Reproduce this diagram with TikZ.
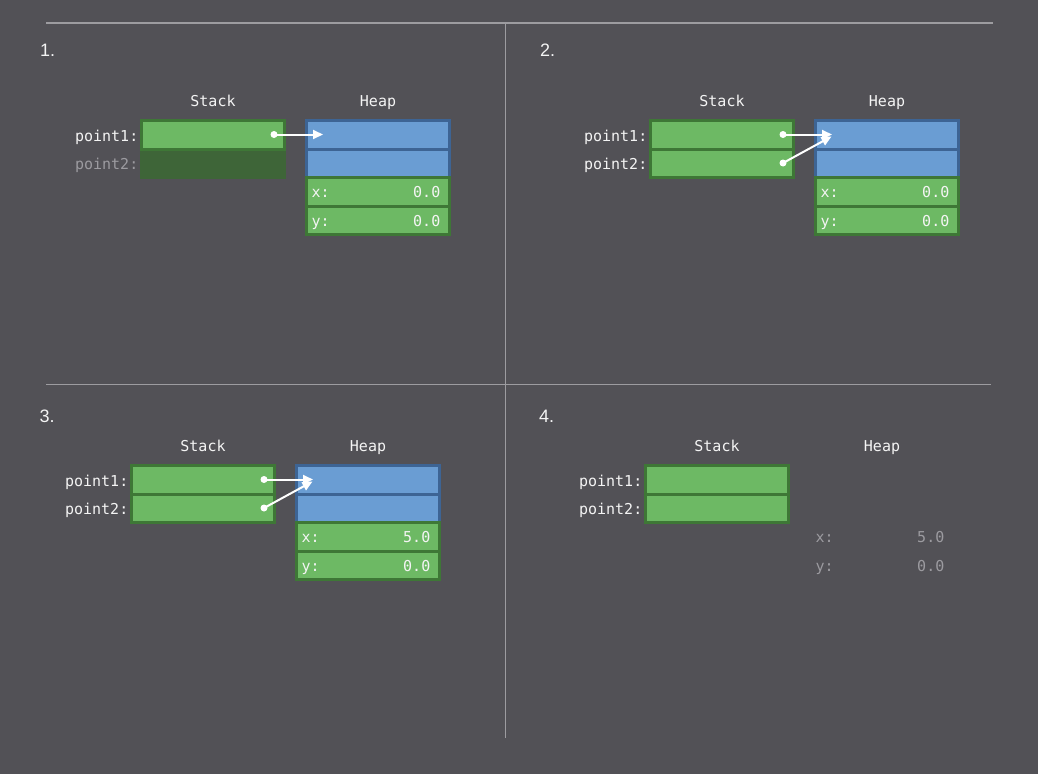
\documentclass[tikz,border=0pt]{standalone}
\usepackage{fontspec}
\setmainfont{Liberation Sans}
\newfontfamily\monof{DejaVu Sans Mono}
\usetikzlibrary{arrows.meta,calc}
\definecolor{bg}{HTML}{525156}
\definecolor{linec}{HTML}{9D9CA0}
\definecolor{txt}{HTML}{F4F4F4}
\definecolor{fadetxt}{HTML}{9C9BA0}
\definecolor{gfill}{HTML}{6DB964}
\definecolor{gborder}{HTML}{3E7736}
\definecolor{gfaded}{HTML}{3E6538}
\definecolor{bfill}{HTML}{6A9DD3}
\definecolor{bborder}{HTML}{3D6494}
\begin{document}
\begin{tikzpicture}[x=1pt,y=-1pt,
  cellg/.style={draw=gborder, fill=gfill, line width=3pt, minimum width=143pt, minimum height=28.5pt, inner sep=0pt, outer sep=0pt},
  cellb/.style={cellg, draw=bborder, fill=bfill},
  cellf/.style={cellg, draw=gfaded, fill=gfaded},
  lbl/.style={font=\monof\fontsize{15}{15}\selectfont, text=txt, inner sep=0pt},
  flbl/.style={lbl, text=fadetxt},
  head/.style={lbl, anchor=base},
  num/.style={font=\fontsize{18}{18}\selectfont, text=txt, inner sep=0pt, anchor=base west},
  ptr/.style={draw=white, line width=2pt, -{Triangle[length=10pt,width=9pt]}},
  dotn/.style={circle, fill=white, inner sep=0pt, minimum size=7pt},
  sepline/.style={draw=linec, line width=1.2pt}]
\fill[bg] (0,0) rectangle (1038,774);
% separators
\draw[sepline] (46,23) -- (993,23);
\draw[sepline] (505.5,23) -- (505.5,738);
\draw[sepline] (46,384.5) -- (991,384.5);
% numbers
\node[num] (n1) at (40,56) {1.};
\node[num] (n2) at (540,56.5) {2.};
\node[num] (n3) at (39.3,422.7) {3.};
\node[num] (n4) at (539,422.7) {4.};

% ---------- panel 1 ----------
\begin{scope}
\node[head] (a-st) at (213,106) {Stack};
\node[head] (a-hp) at (378,106) {Heap};
\node[cellf] (a-s2) at (213,163.5) {};
\node[cellg] (a-s1) at (213,135) {};
\node[cellb] (a-h1) at (378,135) {};
\node[cellb] (a-h2) at (378,163.5) {};
\node[cellg] (a-h3) at (378,192) {};
\node[cellg] (a-h4) at (378,220.5) {};
\node[lbl, anchor=base east] (a-l1) at ($(a-s1.west)+(-3,6)$) {point1:};
\node[flbl, anchor=base east] (a-l2) at ($(a-s2.west)+(-3,6)$) {point2:};
\node[lbl, anchor=base west] (a-xl) at ($(a-h3.west)+(5,5.5)$) {x:};
\node[lbl, anchor=base east] (a-xv) at ($(a-h3.east)+(-9,5.5)$) {0.0};
\node[lbl, anchor=base west] (a-yl) at ($(a-h4.west)+(5,5.5)$) {y:};
\node[lbl, anchor=base east] (a-yv) at ($(a-h4.east)+(-9,5.5)$) {0.0};
\coordinate (a-d1) at ($(a-s1.east)+(-10.5,-0.5)$);
\coordinate (a-t1) at ($(a-h1.west)+(16.5,-0.5)$);
\node[dotn] (a-dot1) at (a-d1) {};
\draw[ptr] (a-d1) -- (a-t1);
\end{scope}

% ---------- panel 2 ----------
\begin{scope}[shift={(509,0)}]
\node[head] (b-st) at (213,106) {Stack};
\node[head] (b-hp) at (378,106) {Heap};
\node[cellg] (b-s1) at (213,135) {};
\node[cellg] (b-s2) at (213,163.5) {};
\node[cellb] (b-h1) at (378,135) {};
\node[cellb] (b-h2) at (378,163.5) {};
\node[cellg] (b-h3) at (378,192) {};
\node[cellg] (b-h4) at (378,220.5) {};
\node[lbl, anchor=base east] (b-l1) at ($(b-s1.west)+(-3,6)$) {point1:};
\node[lbl, anchor=base east] (b-l2) at ($(b-s2.west)+(-3,6)$) {point2:};
\node[lbl, anchor=base west] (b-xl) at ($(b-h3.west)+(5,5.5)$) {x:};
\node[lbl, anchor=base east] (b-xv) at ($(b-h3.east)+(-9,5.5)$) {0.0};
\node[lbl, anchor=base west] (b-yl) at ($(b-h4.west)+(5,5.5)$) {y:};
\node[lbl, anchor=base east] (b-yv) at ($(b-h4.east)+(-9,5.5)$) {0.0};
\coordinate (b-d1) at ($(b-s1.east)+(-10.5,-0.5)$);
\coordinate (b-d2) at ($(b-s2.east)+(-10.5,-0.5)$);
\coordinate (b-t1) at ($(b-h1.west)+(16.5,-0.5)$);
\coordinate (b-t2) at ($(b-h1.west)+(16,1.5)$);
\node[dotn] (b-dot1) at (b-d1) {};
\node[dotn] (b-dot2) at (b-d2) {};
\draw[ptr] (b-d1) -- (b-t1);
\draw[ptr] (b-d2) -- (b-t2);
\end{scope}

% ---------- panel 3 ----------
\begin{scope}[shift={(-10,345)}]
\node[head] (c-st) at (213,106) {Stack};
\node[head] (c-hp) at (378,106) {Heap};
\node[cellg] (c-s1) at (213,135) {};
\node[cellg] (c-s2) at (213,163.5) {};
\node[cellb] (c-h1) at (378,135) {};
\node[cellb] (c-h2) at (378,163.5) {};
\node[cellg] (c-h3) at (378,192) {};
\node[cellg] (c-h4) at (378,220.5) {};
\node[lbl, anchor=base east] (c-l1) at ($(c-s1.west)+(-3,6)$) {point1:};
\node[lbl, anchor=base east] (c-l2) at ($(c-s2.west)+(-3,6)$) {point2:};
\node[lbl, anchor=base west] (c-xl) at ($(c-h3.west)+(5,5.5)$) {x:};
\node[lbl, anchor=base east] (c-xv) at ($(c-h3.east)+(-9,5.5)$) {5.0};
\node[lbl, anchor=base west] (c-yl) at ($(c-h4.west)+(5,5.5)$) {y:};
\node[lbl, anchor=base east] (c-yv) at ($(c-h4.east)+(-9,5.5)$) {0.0};
\coordinate (c-d1) at ($(c-s1.east)+(-10.5,-0.5)$);
\coordinate (c-d2) at ($(c-s2.east)+(-10.5,-0.5)$);
\coordinate (c-t1) at ($(c-h1.west)+(16.5,-0.5)$);
\coordinate (c-t2) at ($(c-h1.west)+(16,1.5)$);
\node[dotn] (c-dot1) at (c-d1) {};
\node[dotn] (c-dot2) at (c-d2) {};
\draw[ptr] (c-d1) -- (c-t1);
\draw[ptr] (c-d2) -- (c-t2);
\end{scope}

% ---------- panel 4 ----------
\begin{scope}[shift={(504,345)}]
\node[head] (d-st) at (213,106) {Stack};
\node[head] (d-hp) at (378,106) {Heap};
\node[cellg] (d-s1) at (213,135) {};
\node[cellg] (d-s2) at (213,163.5) {};
\node[lbl, anchor=base east] (d-l1) at ($(d-s1.west)+(-3,6)$) {point1:};
\node[lbl, anchor=base east] (d-l2) at ($(d-s2.west)+(-3,6)$) {point2:};
\coordinate (d-h3w) at (306.5,192);
\coordinate (d-h3e) at (449.5,192);
\coordinate (d-h4w) at (306.5,220.5);
\coordinate (d-h4e) at (449.5,220.5);
\node[flbl, anchor=base west] (d-xl) at ($(d-h3w)+(5,5.5)$) {x:};
\node[flbl, anchor=base east] (d-xv) at ($(d-h3e)+(-9,5.5)$) {5.0};
\node[flbl, anchor=base west] (d-yl) at ($(d-h4w)+(5,5.5)$) {y:};
\node[flbl, anchor=base east] (d-yv) at ($(d-h4e)+(-9,5.5)$) {0.0};
\end{scope}
\end{tikzpicture}
\end{document}
